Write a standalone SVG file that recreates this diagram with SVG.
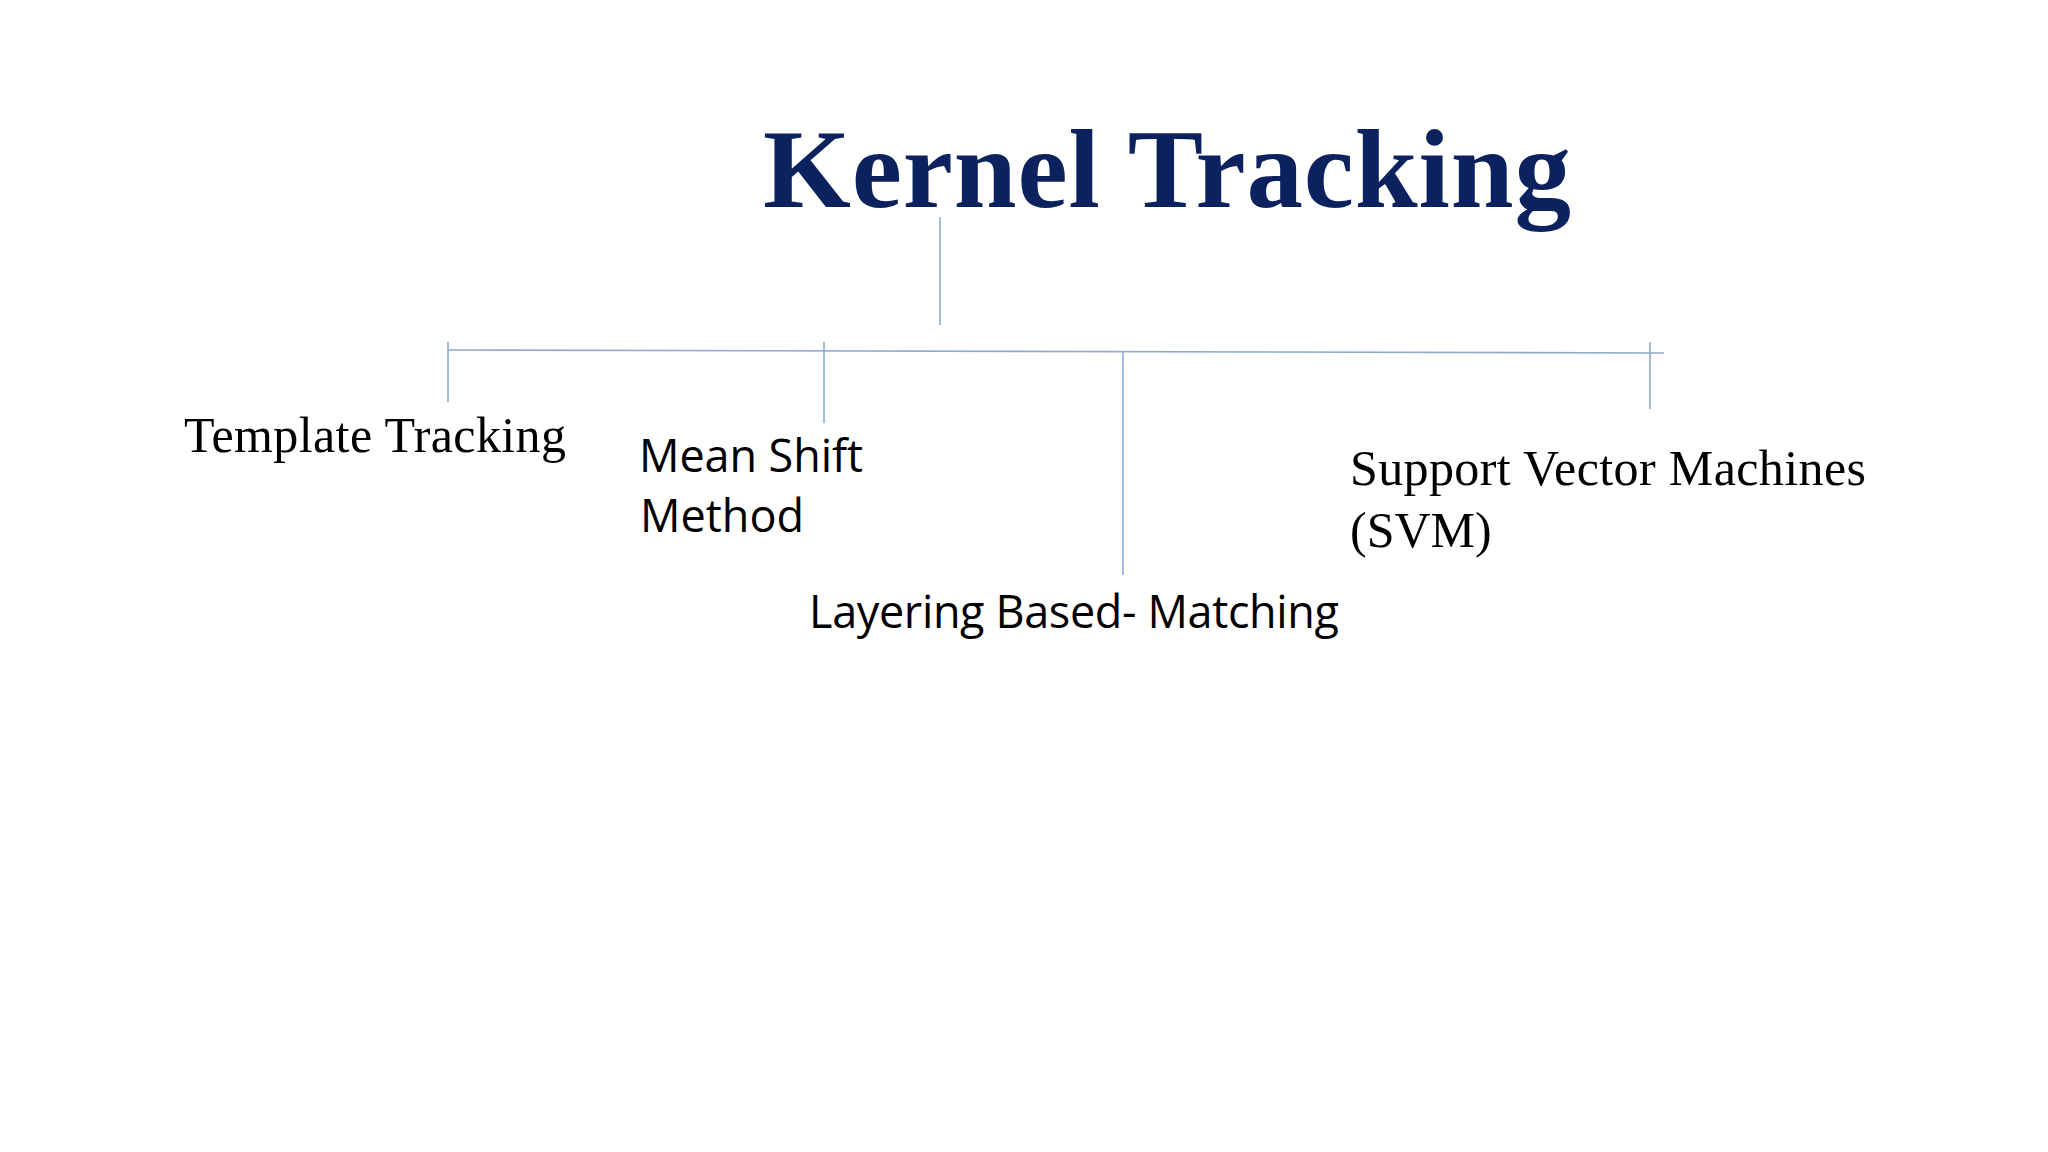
<svg xmlns="http://www.w3.org/2000/svg" width="2048" height="1152" viewBox="0 0 2048 1152">
  <style>
    .title { font-family: "Liberation Serif", "Times New Roman", serif; font-weight: bold; font-size: 113px; fill: #0b225f; }
    .serif { font-family: "Liberation Serif", "Times New Roman", serif; font-size: 50px; fill: #000000; }
    .sans { font-family: "Open Sans", "Noto Sans", sans-serif; font-size: 45px; fill: #000000; }
    .conn { stroke: #8eaccc; stroke-width: 1.6; fill: none; }
  </style>
  <rect width="2048" height="1152" fill="#ffffff"/>
  <g id="connectors">
    <line class="conn" x1="940" y1="217" x2="940" y2="325"/>
    <line class="conn" x1="448" y1="350" x2="1664" y2="353"/>
    <line class="conn" x1="448" y1="342" x2="448" y2="402"/>
    <line class="conn" x1="824" y1="342" x2="824" y2="423"/>
    <line class="conn" x1="1123" y1="352" x2="1123" y2="575"/>
    <line class="conn" x1="1650" y1="342" x2="1650" y2="409"/>
  </g>
  <g id="node-kernel-tracking">
    <text class="title" x="763" y="207" textLength="808">Kernel Tracking</text>
  </g>
  <g id="node-template-tracking">
    <text class="serif" x="184" y="452" textLength="382">Template Tracking</text>
  </g>
  <g id="node-mean-shift">
    <text class="sans" x="639" y="472" textLength="224">Mean Shift</text>
    <text class="sans" x="640" y="532">Method</text>
  </g>
  <g id="node-layering">
    <text class="sans" x="809" y="628" textLength="530">Layering Based- Matching</text>
  </g>
  <g id="node-svm">
    <text class="serif" x="1350" y="485" textLength="516">Support Vector Machines</text>
    <text class="serif" x="1350" y="547">(SVM)</text>
  </g>
</svg>
